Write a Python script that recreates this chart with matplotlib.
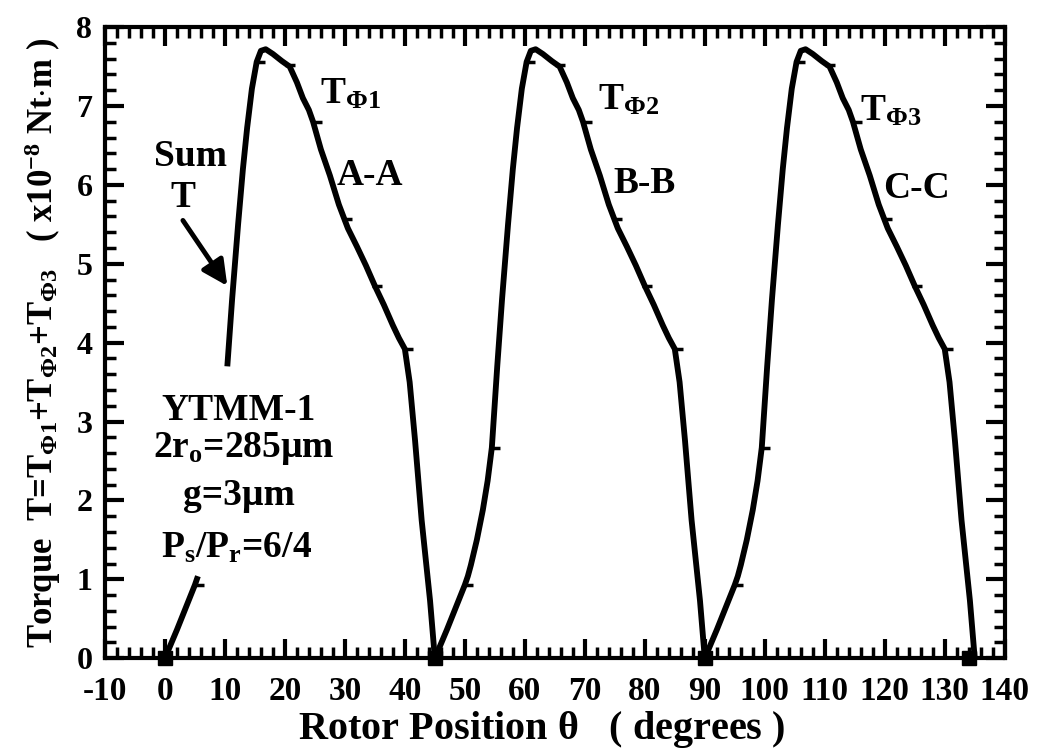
import numpy as np
import matplotlib
matplotlib.use("Agg")
from matplotlib import pyplot as plt
from matplotlib.ticker import MultipleLocator

# one period of phase torque (relative rotor angle in degrees, torque x1e-8 N.m)
cycle_theta = [0, 1, 2, 3, 4, 5, 5.5, 6, 7, 8, 8.8, 9.5, 10.4, 11.2, 12.2, 13,
               13.7, 14.5, 15.3, 16, 16.8, 18, 19.5, 20.8, 22, 23, 24, 24.7,
               26, 27.5, 29, 30.5, 32, 33.5, 35, 36.5, 38, 39, 40, 40.8,
               41.7, 42.8, 44.2, 45]
cycle_torque = [0, 0.18, 0.36, 0.55, 0.74, 0.93, 1.04, 1.18, 1.5, 1.88, 2.25,
                2.67, 3.7, 4.55, 5.5, 6.2, 6.72, 7.22, 7.56, 7.7, 7.72, 7.66,
                7.57, 7.5, 7.3, 7.1, 6.95, 6.8, 6.45, 6.12, 5.75, 5.45, 5.22,
                4.98, 4.72, 4.48, 4.22, 4.06, 3.92, 3.5, 2.76, 1.75, 0.73, 0]

# data point ticks along each period
mark_theta = [5, 9.5, 15.3, 20.3, 24.7, 29.7, 34.7, 40]
mark_torque = [0.93, 2.67, 7.56, 7.52, 6.8, 5.57, 4.72, 3.92]

phase_offsets = [0, 45, 90]
phase_names = ["$T_{\\Phi1}$", "$T_{\\Phi2}$", "$T_{\\Phi3}$"]
section_names = ["A-A", "B-B", "C-C"]
zero_points = [0, 45, 90, 134]

# part of the first period hidden behind the motor description text
hidden_range = (5.6, 10.3)

plt.rcParams["font.family"] = "Liberation Serif"
plt.rcParams["font.weight"] = "bold"
plt.rcParams["axes.unicode_minus"] = False
plt.rcParams["mathtext.fontset"] = "custom"
plt.rcParams["mathtext.rm"] = "Liberation Serif:bold"
plt.rcParams["mathtext.bf"] = "Liberation Serif:bold"
plt.rcParams["mathtext.it"] = "Liberation Serif:bold:italic"
plt.rcParams["mathtext.default"] = "rm"

fig = plt.figure(figsize=(10.39, 7.54), dpi=100)
ax = fig.add_axes([0.101, 0.127, 0.866, 0.837])

th = np.array(cycle_theta, dtype=float)
tq = np.array(cycle_torque, dtype=float)
mth = np.array(mark_theta)
mtq = np.array(mark_torque)
for k, off in enumerate(phase_offsets):
    y = tq.copy()
    mk = np.ones(len(mth), bool)
    if k == 0:
        y[(th > hidden_range[0]) & (th < hidden_range[1])] = np.nan
        mk = ~((mth > hidden_range[0]) & (mth < hidden_range[1]))
    ax.plot(th + off, y, color="black", lw=4.2, solid_capstyle="butt",
            solid_joinstyle="round")
    ax.plot(mth[mk] + off + 0.6, mtq[mk], ls="none", marker="_", ms=7,
            mew=2.5, color="black")

ax.plot(zero_points, [0] * len(zero_points), ls="none", marker="s", ms=10,
        color="black", clip_on=False, zorder=5)

ax.set_xlim(-10, 140)
ax.set_ylim(0, 8)
ax.set_xticks(range(-10, 141, 10))
ax.xaxis.set_minor_locator(MultipleLocator(2))
ax.yaxis.set_major_locator(MultipleLocator(1))
ax.yaxis.set_minor_locator(MultipleLocator(0.2))
ax.tick_params(which="both", direction="in", top=True, right=True)
ax.tick_params(axis="x", labelsize=24, pad=13)
ax.tick_params(axis="y", labelsize=23, pad=9)
ax.tick_params(which="major", length=14, width=3)
ax.tick_params(which="minor", length=8, width=2.5)
for s in ax.spines.values():
    s.set_linewidth(3)

ax.set_xlabel("Rotor Position $\\theta$   ( degrees )", fontsize=29,
              fontweight="bold")
ax.xaxis.set_label_coords(0.485, -0.08)
ax.set_ylabel("Torque  T=$T_{\\Phi1}$+$T_{\\Phi2}$+$T_{\\Phi3}$   "
              "( x10$^{-8}$ Nt$\\cdot$m )", fontsize=25, fontweight="bold",
              labelpad=10)

# phase labels
phase_pos = [(25.8, 7.03), (72.2, 6.95), (115.8, 6.82)]
section_pos = [(28.7, 6.0), (74.7, 5.9), (119.7, 5.84)]
for name, (x, y) in zip(phase_names, phase_pos):
    ax.text(x, y, name, fontsize=27, ha="left", va="baseline")
for name, (x, y) in zip(section_names, section_pos):
    ax.text(x, y, name, fontsize=27, ha="left", va="baseline")

ax.text(4.3, 6.36, "Sum", fontsize=27, ha="center", va="center")
ax.text(3.0, 5.84, "T", fontsize=27, ha="center", va="center")
ax.annotate("", xy=(10.4, 4.72), xytext=(3.0, 5.55),
            arrowprops=dict(arrowstyle="-|>", lw=3.5, color="black",
                            mutation_scale=38, shrinkA=0, shrinkB=0))

ax.text(12.2, 3.02, "YTMM-1", fontsize=27, ha="center", va="baseline")
ax.text(13.2, 2.55, "2r$_\\mathregular{o}$=285µm", fontsize=27, ha="center",
        va="baseline")
ax.text(12.3, 1.94, "g=3µm", fontsize=27, ha="center", va="baseline")
ax.text(12.0, 1.27, "P$_\\mathregular{s}$/P$_\\mathregular{r}$=6/4",
        fontsize=27, ha="center", va="baseline")

fig.savefig("out.png", dpi=100)
